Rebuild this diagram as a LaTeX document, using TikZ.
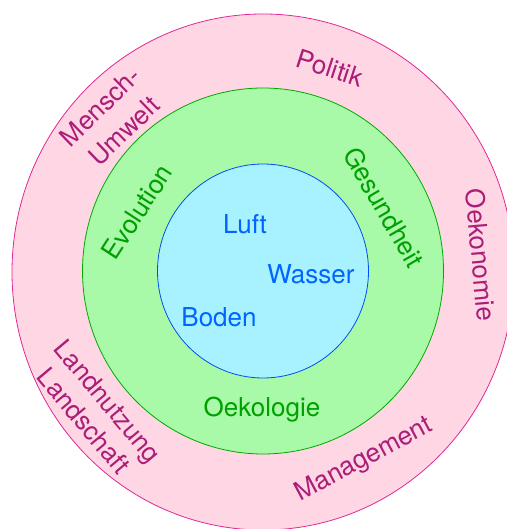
\documentclass[tikz,border=0pt]{standalone}
\usepackage{fontspec}
\setmainfont{TeX Gyre Heros}
\usepackage{tikz}

\definecolor{outerfill}{RGB}{255,214,228}
\definecolor{outerline}{RGB}{225,40,150}
\definecolor{outertext}{RGB}{170,30,120}
\definecolor{midfill}{RGB}{168,250,168}
\definecolor{midline}{RGB}{0,170,0}
\definecolor{midtext}{RGB}{0,160,0}
\definecolor{innerfill}{RGB}{168,242,255}
\definecolor{innerline}{RGB}{0,80,240}
\definecolor{innertext}{RGB}{0,100,255}

\begin{document}
\begin{tikzpicture}[x=1pt,y=1pt,
	lbl/.style={inner sep=0pt, font=\fontsize{26}{31}\selectfont, align=center},
	outerlbl/.style={lbl, text=outertext},
	midlbl/.style={lbl, text=midtext},
	innerlbl/.style={lbl, text=innertext}]
		\useasboundingbox (0,0) rectangle (506,529);
		% rings
		\draw[outerline, fill=outerfill, line width=0.8pt] (263,257) ellipse (251 and 258);
		\draw[midline, fill=midfill, line width=0.8pt] (263,258) ellipse (180.5 and 183);
		\draw[innerline, fill=innerfill, line width=0.8pt] (263,258) ellipse (105.5 and 107);
		% inner circle
		\node[innerlbl] (luft) at (245,305) {Luft};
		\node[innerlbl] (wasser) at (311,255) {Wasser};
		\node[innerlbl] (boden) at (219,212) {Boden};
		% middle ring
		\node[midlbl, rotate=57] (evolution) at (137,317) {Evolution};
		\node[midlbl, rotate=-60] (gesundheit) at (384,322) {Gesundheit};
		\node[midlbl] (oekologie) at (262,119) {Oekologie};
		% outer ring
		\node[outerlbl, rotate=-18] (politik) at (330,461) {Politik};
		\node[outerlbl, rotate=-85] (oekonomie) at (481,274) {Oekonomie};
		\node[outerlbl, rotate=28] (management) at (364,69) {Management};
		\node[outerlbl, rotate=44, font=\fontsize{26}{34}\selectfont] (menschumwelt) at (112,410) {Mensch-\\Umwelt};
		\node[outerlbl, rotate=-50] (landnutzung) at (96,118) {Landnutzung\\Landschaft};
\end{tikzpicture}
\end{document}
